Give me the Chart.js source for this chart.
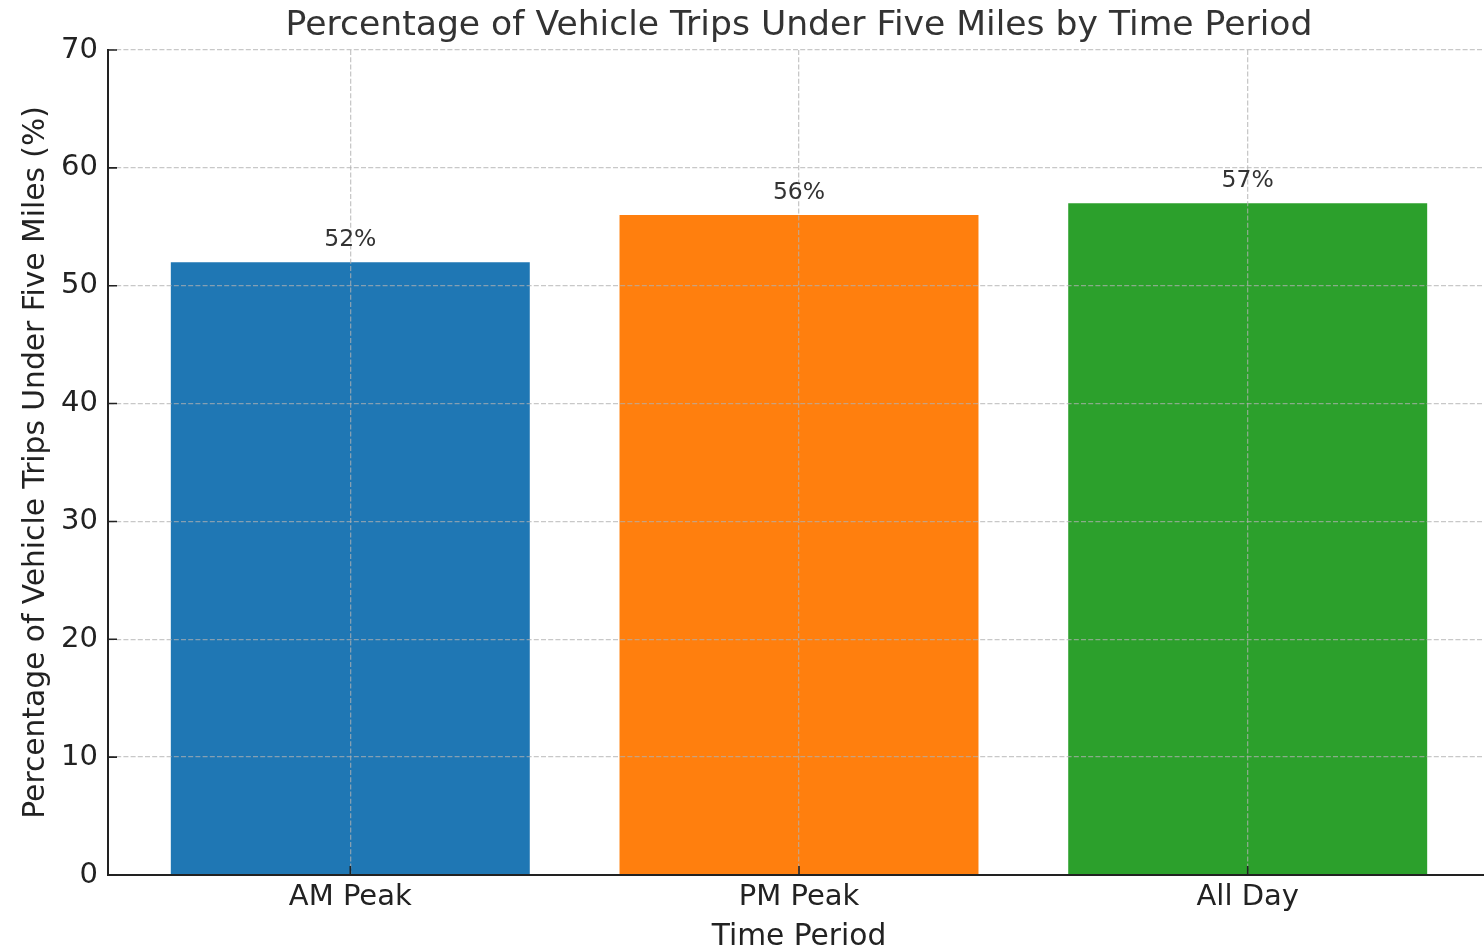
<!DOCTYPE html>
<html>
<head>
<meta charset="utf-8">
<script src="https://cdn.jsdelivr.net/npm/chart.js@4/dist/chart.umd.min.js"></script>
<style>
  html, body { margin: 0; padding: 0; background: #fff; overflow: hidden; }
  canvas { display: block; }
</style>
</head>
<body>
<canvas id="grafico" width="1492" height="950"></canvas>
<script>
// dados do grafico
const periodos = ['AM Peak', 'PM Peak', 'All Day'];
const percentuais = [52, 56, 57];
const coresBarras = ['#1f77b4', '#ff7f0e', '#2ca02c'];
const ticksY = [0, 10, 20, 30, 40, 50, 60, 70];

const titulo = 'Percentage of Vehicle Trips Under Five Miles by Time Period';
const tituloX = 'Time Period';
const tituloY = 'Percentage of Vehicle Trips Under Five Miles (%)';

const familia = 'DejaVu Sans';
const corGrade = 'rgba(176,176,176,0.7)';

// titulo centralizado na area do grafico
const pluginTitulo = {
  id: 'titulo',
  afterDraw(chart) {
    const ctx = chart.ctx, area = chart.chartArea;
    ctx.save();
    ctx.font = '34.6px "' + familia + '"';
    ctx.fillStyle = '#333';
    ctx.textAlign = 'center';
    ctx.textBaseline = 'alphabetic';
    ctx.fillText(titulo, (area.left + area.right) / 2, 35);
    ctx.restore();
  }
};

// rotulos de valor acima das barras
const pluginRotulos = {
  id: 'rotulos',
  afterDraw(chart) {
    const ctx = chart.ctx;
    ctx.save();
    ctx.font = '23.5px "' + familia + '"';
    ctx.fillStyle = '#333';
    ctx.textAlign = 'center';
    ctx.textBaseline = 'alphabetic';
    chart.getDatasetMeta(0).data.forEach((barra, i) => {
      ctx.fillText(percentuais[i] + '%', barra.x, barra.y - 16);
    });
    ctx.restore();
  }
};

// marcas dos ticks para dentro (estilo matplotlib)
const pluginTicks = {
  id: 'ticksDentro',
  afterDraw(chart) {
    const ctx = chart.ctx, area = chart.chartArea;
    const sx = chart.scales.x, sy = chart.scales.y;
    ctx.save();
    ctx.strokeStyle = '#222';
    ctx.lineWidth = 1.6;
    ctx.beginPath();
    sy.ticks.forEach(t => {
      const py = sy.getPixelForValue(t.value);
      ctx.moveTo(area.left, py);
      ctx.lineTo(area.left + 9, py);
    });
    sx.ticks.forEach(t => {
      const px = sx.getPixelForValue(t.value);
      ctx.moveTo(px, area.bottom);
      ctx.lineTo(px, area.bottom - 9);
    });
    ctx.stroke();
    ctx.restore();
  }
};

function criarGrafico(idGrafico) {
  const ctx = document.getElementById(idGrafico).getContext('2d');
  return new Chart(ctx, {
    type: 'bar',
    data: {
      datasets: [{
        data: periodos.map((p, i) => ({ x: i, y: percentuais[i] })),
        backgroundColor: coresBarras,
        borderWidth: 0,
        barPercentage: 0.8,
        categoryPercentage: 1.0
      }]
    },
    options: {
      responsive: false,
      animation: false,
      devicePixelRatio: 1,
      layout: { padding: { top: 50, right: 2, bottom: 0, left: 0 } },
      plugins: {
        legend: { display: false },
        title: { display: false },
        tooltip: { enabled: false }
      },
      scales: {
        x: {
          type: 'linear',
          min: -0.54,
          max: 2.54,
          offset: false,
          afterBuildTicks: s => { s.ticks = periodos.map((p, i) => ({ value: i })); },
          afterFit: s => { s.height = 75; },
          ticks: {
            callback: (v, i) => periodos[i],
            autoSkip: false,
            maxRotation: 0,
            padding: 5,
            color: '#222',
            font: { family: familia, size: 29 }
          },
          grid: { offset: false, color: corGrade, lineWidth: 1.3, drawTicks: false, z: 1 },
          border: { display: true, color: '#222', width: 2, dash: [5, 2.2], z: 2 },
          title: {
            display: true,
            text: tituloX,
            color: '#222',
            font: { family: familia, size: 29.7 },
            padding: { top: 0, bottom: -5 }
          }
        },
        y: {
          min: 0,
          max: 70,
          afterBuildTicks: s => { s.ticks = ticksY.map(v => ({ value: v })); },
          afterFit: s => { s.width = 108; },
          ticks: {
            padding: 10,
            color: '#222',
            font: { family: familia, size: 29 }
          },
          grid: { color: corGrade, lineWidth: 1.3, drawTicks: false, z: 1 },
          border: { display: true, color: '#222', width: 2, dash: [5, 2.2], z: 2 },
          title: {
            display: true,
            text: tituloY,
            color: '#222',
            font: { family: familia, size: 29.7 },
            padding: { top: 18, bottom: 0 }
          }
        }
      }
    },
    plugins: [pluginTitulo, pluginRotulos, pluginTicks]
  });
}

criarGrafico('grafico');
</script>
</body>
</html>
